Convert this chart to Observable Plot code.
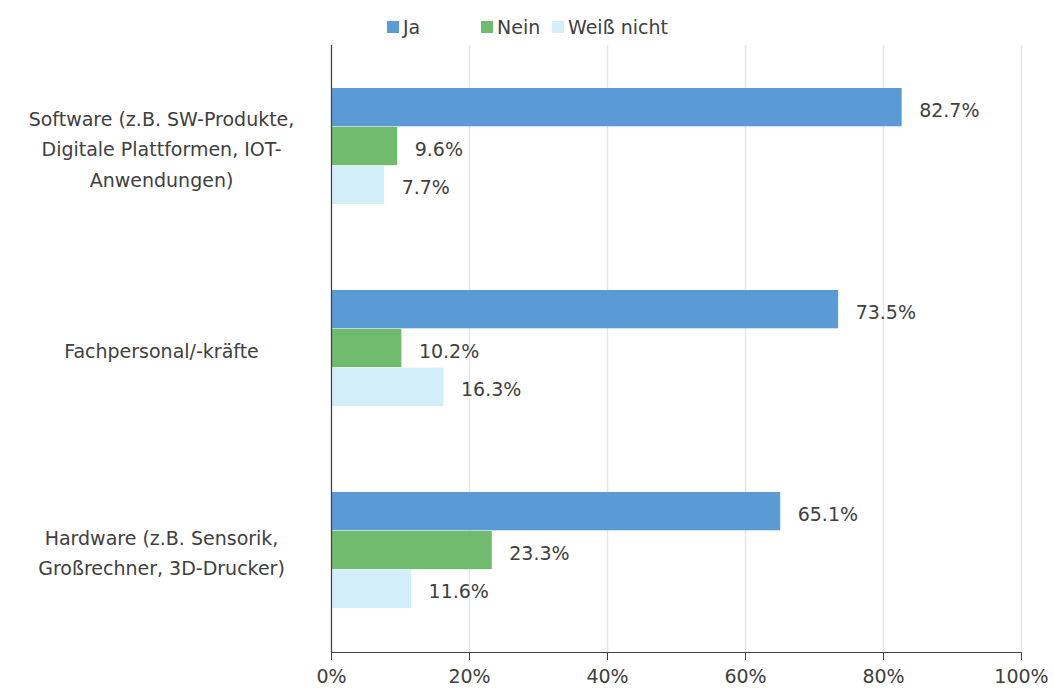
<!DOCTYPE html>
<html><head><meta charset="utf-8">
<script src="https://cdn.jsdelivr.net/npm/d3@7"></script>
<script src="https://cdn.jsdelivr.net/npm/@observablehq/plot@0.6"></script>
<style>
body{margin:0;background:#fff;font-family:"DejaVu Sans",sans-serif;color:#404040;}
#legend{height:45px;width:1054px;display:flex;justify-content:flex-start;align-items:center;font-size:19px;box-sizing:border-box;padding-left:387px;padding-top:8px;}
.item{display:flex;align-items:center;}
.sw{width:12px;height:12px;margin-right:4px;display:inline-block;}
</style></head><body>
<div id="legend"></div><div id="chart"></div>
<script>
const categories = [
  "Software (z.B. SW-Produkte,\nDigitale Plattformen, IOT-\nAnwendungen)",
  "Fachpersonal/-kräfte",
  "Hardware (z.B. Sensorik,\nGroßrechner, 3D-Drucker)"
];
const series = ["Ja", "Nein", "Weiß nicht"];
const ja = [82.7, 73.5, 65.1];
const nein = [9.6, 10.2, 23.3];
const weissNicht = [7.7, 16.3, 11.6];
const colors = ["#5B9BD5", "#71BB6E", "#D1EEF9"];
const xTicks = [0, 20, 40, 60, 80, 100];

const values = [ja, nein, weissNicht];
const rows = [];
series.forEach((s, i) => categories.forEach((c, j) => rows.push({cat: c, series: s, si: i, value: values[i][j]})));

// layout
const W = 1054, H = 646, mT = 0, mB = 39, mL = 331, mR = 33;
const pIn = 0.425, pOut = 0.21;
const step = (H - mT - mB) / (categories.length - pIn + 2 * pOut);
const bw = step * (1 - pIn);
const third = bw / 3;
const legendWidths = ["94px", "71px", "auto"];

const legend = document.getElementById("legend");
series.forEach((s, i) => {
  const it = document.createElement("div"); it.className = "item"; it.style.width = legendWidths[i];
  const sw = document.createElement("span"); sw.className = "sw"; sw.style.background = colors[i];
  const t = document.createElement("span"); t.textContent = s;
  it.appendChild(sw); it.appendChild(t); legend.appendChild(it);
});

const marks = [
  Plot.gridX(xTicks, {stroke: "#e6e6e6", strokeOpacity: 1, strokeWidth: 1.5})
];
series.forEach((s, i) => {
  const data = rows.filter(d => d.si === i);
  marks.push(Plot.barX(data, {x: "value", y: "cat", fill: colors[i], insetTop: i * third, insetBottom: (2 - i) * third}));
  marks.push(Plot.text(data, {x: "value", y: "cat", dy: (i - 1) * third + 3, dx: 17, textAnchor: "start",
    text: d => d.value.toFixed(1) + "%", fill: "#404040", fontSize: 19}));
});
marks.push(Plot.text(categories, {y: d => d, frameAnchor: "left", dx: -170, textAnchor: "middle", lineHeight: 1.6, fill: "#404040", fontSize: 19}));
marks.push(Plot.ruleX([0], {stroke: "#404040", strokeWidth: 1.2}));

const chart = Plot.plot({
  width: W, height: H,
  marginTop: mT, marginBottom: mB, marginLeft: mL, marginRight: mR,
  style: {fontFamily: "DejaVu Sans, sans-serif", fontSize: "19px", color: "#404040", background: "#fff"},
  x: {domain: [0, 100], ticks: xTicks, tickFormat: d => d + "%", tickSize: 8, tickPadding: 9, line: true, label: null},
  y: {domain: categories, paddingInner: pIn, paddingOuter: pOut, axis: null},
  marks
});
document.getElementById("chart").appendChild(chart);
</script>
</body></html>
